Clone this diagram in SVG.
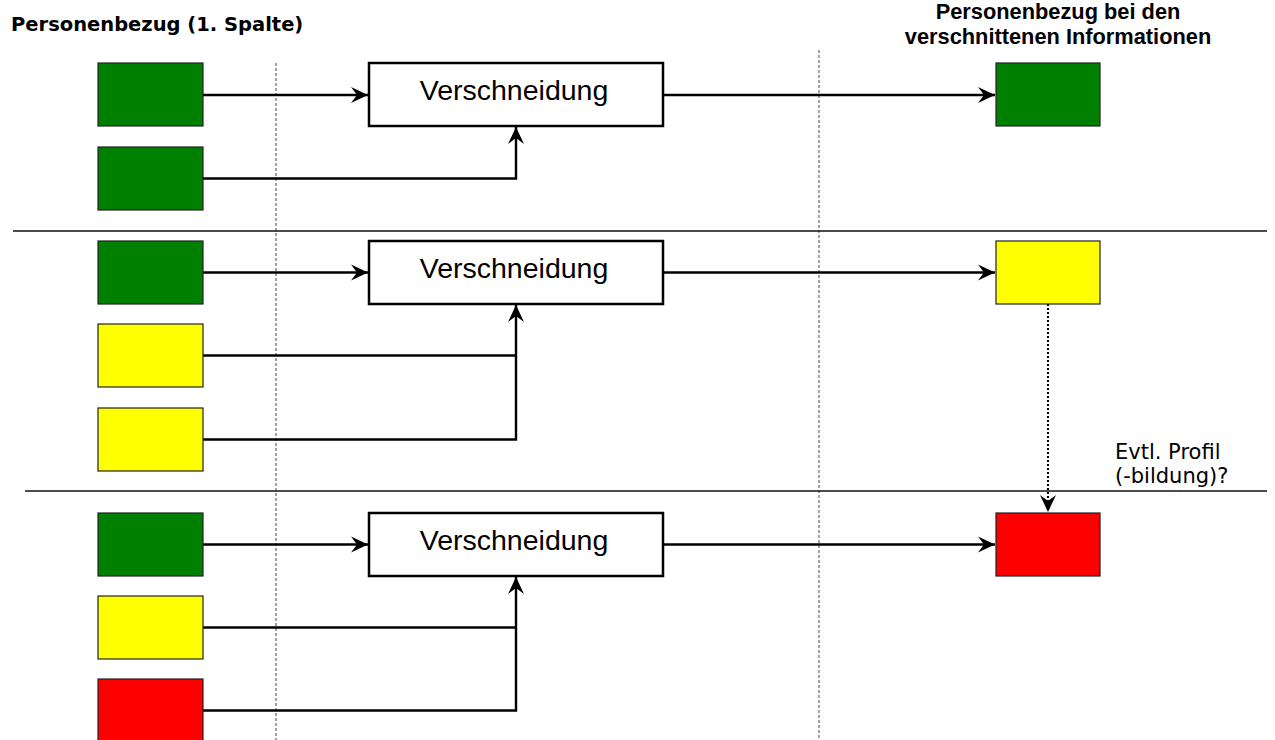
<svg xmlns="http://www.w3.org/2000/svg" width="1275" height="740" viewBox="0 0 1275 740">
<defs>
<marker id="arr" markerUnits="userSpaceOnUse" markerWidth="20" markerHeight="20" viewBox="-18 -10 20 20" refX="0" refY="0" orient="auto">
<path d="M0,0 L-17,-8 L-11,0 L-17,8 Z" fill="#000"/>
</marker>
</defs>
<style>
.g{fill:#008000;stroke:#222;stroke-width:1.2}
.y{fill:#ffff00;stroke:#222;stroke-width:1.2}
.r{fill:#ff0000;stroke:#222;stroke-width:1.2}
.v{fill:#fff;stroke:#000;stroke-width:2.5}
.c{fill:none;stroke:#000;stroke-width:2.4}
.vt{font-family:"Liberation Sans",Arial,sans-serif;font-size:28.5px;fill:#000;text-anchor:middle}
.sep{stroke:#111;stroke-width:1.3}
.dash{stroke:#666;stroke-width:1.2;stroke-dasharray:3,2}
</style>
<g id="guides">
<line class="dash" x1="276" y1="63" x2="276" y2="740"/>
<line class="dash" x1="819" y1="50" x2="819" y2="740"/>
<line class="sep" x1="13" y1="231" x2="1267" y2="231"/>
<line class="sep" x1="25" y1="491" x2="1267" y2="491"/>
</g>
<g id="headers">
<text x="11" y="31" font-family="DejaVu Sans, sans-serif" font-weight="bold" font-size="19.5">Personenbezug (1. Spalte)</text>
<text x="1058" y="19" font-family="Liberation Sans, Arial, sans-serif" font-weight="bold" font-size="21.8" text-anchor="middle">Personenbezug bei den</text>
<text x="1058" y="44" font-family="Liberation Sans, Arial, sans-serif" font-weight="bold" font-size="21.8" text-anchor="middle">verschnittenen Informationen</text>
</g>
<g id="connectors">
<path class="c" d="M203,95 H368" marker-end="url(#arr)"/>
<path class="c" d="M203,178.5 H516 V127" marker-end="url(#arr)"/>
<path class="c" d="M663,95 H995" marker-end="url(#arr)"/>
<path class="c" d="M203,272.5 H368" marker-end="url(#arr)"/>
<path class="c" d="M203,355.5 H516"/>
<path class="c" d="M203,439.5 H516 V305" marker-end="url(#arr)"/>
<path class="c" d="M663,272.5 H995" marker-end="url(#arr)"/>
<path class="c" d="M203,544.5 H368" marker-end="url(#arr)"/>
<path class="c" d="M203,627.5 H516"/>
<path class="c" d="M203,710.5 H516 V577" marker-end="url(#arr)"/>
<path class="c" d="M663,544.5 H995" marker-end="url(#arr)"/>
<path d="M1048,304 V512" fill="none" stroke="#000" stroke-width="2.2" stroke-dasharray="2,2" marker-end="url(#arr)"/>
</g>
<g id="s1-in1"><rect class="g" x="98" y="63" width="105" height="63"/></g>
<g id="s1-in2"><rect class="g" x="98" y="147" width="105" height="63"/></g>
<g id="s1-v"><rect class="v" x="369" y="63" width="294" height="63"/><text class="vt" x="514" y="100">Verschneidung</text></g>
<g id="s1-out"><rect class="g" x="996" y="63" width="104" height="63"/></g>
<g id="s2-in1"><rect class="g" x="98" y="241" width="105" height="63"/></g>
<g id="s2-in2"><rect class="y" x="98" y="324" width="105" height="63"/></g>
<g id="s2-in3"><rect class="y" x="98" y="408" width="105" height="63"/></g>
<g id="s2-v"><rect class="v" x="369" y="241" width="294" height="63"/><text class="vt" x="514" y="278">Verschneidung</text></g>
<g id="s2-out"><rect class="y" x="996" y="241" width="104" height="63"/></g>
<g id="s3-in1"><rect class="g" x="98" y="513" width="105" height="63"/></g>
<g id="s3-in2"><rect class="y" x="98" y="596" width="105" height="63"/></g>
<g id="s3-in3"><rect class="r" x="98" y="679" width="105" height="63"/></g>
<g id="s3-v"><rect class="v" x="369" y="513" width="294" height="63"/><text class="vt" x="514" y="550">Verschneidung</text></g>
<g id="s3-out"><rect class="r" x="996" y="513" width="104" height="63"/></g>
<g id="profil-label">
<text x="1115" y="459" font-family="DejaVu Sans, sans-serif" font-size="21">Evtl. Profil</text>
<text x="1115" y="483" font-family="DejaVu Sans, sans-serif" font-size="21">(-bildung)?</text>
</g>
</svg>
